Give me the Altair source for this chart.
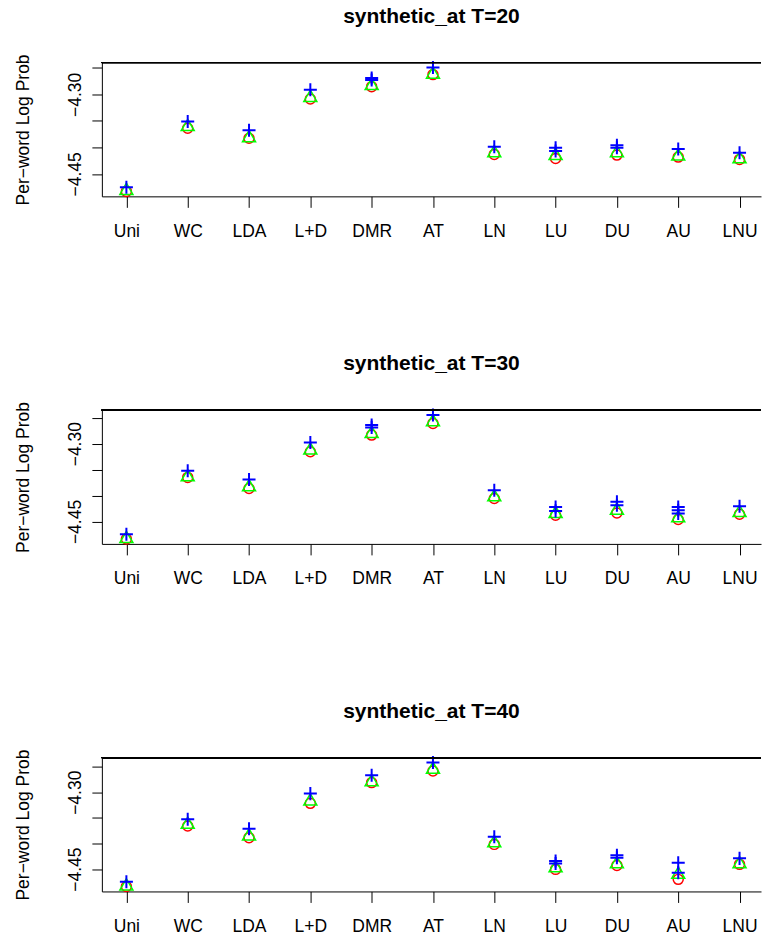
import json
import altair as alt
import pandas as pd

# Models compared on the x axis
categories = ["Uni", "WC", "LDA", "L+D", "DMR", "AT", "LN", "LU", "DU", "AU", "LNU"]
panel_titles = ["synthetic_at T=20", "synthetic_at T=30", "synthetic_at T=40"]

# Per-word log probability, one value per model for each of three estimators
red_t20 = [-4.4830, -4.3639, -4.3828, -4.3088, -4.2855, -4.2627, -4.4132, -4.4208, -4.4145, -4.4183, -4.4227]
green_t20 = [-4.4780, -4.3576, -4.3785, -4.3026, -4.2804, -4.2589, -4.4069, -4.4120, -4.4069, -4.4132, -4.4183]
blue_t20 = [-4.4752, -4.3513, -4.3677, -4.2912, -4.2690, -4.2493, -4.3988, -4.4007, -4.3961, -4.4031, -4.4101]
blue_more_t20 = [("DMR", -4.2728), ("LU", -4.4069), ("DU", -4.4007)]

red_t30 = [-4.4836, -4.3650, -4.3863, -4.3156, -4.2834, -4.2608, -4.4056, -4.4378, -4.4334, -4.4461, -4.4359]
green_t30 = [-4.4797, -4.3606, -4.3799, -4.3091, -4.2770, -4.2544, -4.3992, -4.4314, -4.4249, -4.4397, -4.4295]
blue_t30 = [-4.4745, -4.3523, -4.3689, -4.2975, -4.2641, -4.2447, -4.3895, -4.4218, -4.4121, -4.4218, -4.4204]
blue_more_t30 = [("DMR", -4.2685), ("LU", -4.4295), ("DU", -4.4185), ("AU", -4.4281), ("AU", -4.4345)]

red_t40 = [-4.4840, -4.3660, -4.3887, -4.3217, -4.2812, -4.2586, -4.4018, -4.4506, -4.4428, -4.4701, -4.4408]
green_t40 = [-4.4799, -4.3594, -4.3822, -4.3139, -4.2762, -4.2520, -4.3953, -4.4441, -4.4363, -4.4570, -4.4363]
blue_t40 = [-4.4746, -4.3529, -4.3711, -4.3027, -4.2670, -4.2421, -4.3867, -4.4344, -4.4232, -4.4375, -4.4291]
blue_more_t40 = [("LU", -4.4389), ("DU", -4.4277), ("AU", -4.4570)]

y_ticks = [-4.25, -4.30, -4.35, -4.40, -4.45]

PLOT_W, PLOT_H = 660, 134
FONT = "Liberation Sans"
MINUS = "\u2212"


def panel_frame(red, green, blue, extra):
    rows = []
    for series, vals in (("red", red), ("green", green), ("blue", blue)):
        for i, v in enumerate(vals):
            rows.append({"pos": i + 1, "value": v, "series": series})
    for cat, v in extra:
        rows.append({"pos": categories.index(cat) + 1, "value": v, "series": "blue"})
    return pd.DataFrame(rows)


def r_domain(values):
    # base-graphics style range: data extent widened by 4% on each side
    lo, hi = min(values), max(values)
    pad = 0.04 * (hi - lo)
    return [lo - pad, hi + pad]


x_label_expr = json.dumps(categories) + "[datum.value - 1]"
y_label_expr = (
    "abs(datum.value + 4.30) < 1e-6 || abs(datum.value + 4.45) < 1e-6 ? "
    "replace(format(datum.value, '.2f'), '-', '" + MINUS + "') : ''"
)


def panel(title, red, green, blue, extra):
    df = panel_frame(red, green, blue, extra)
    ydom = r_domain(df["value"].tolist())
    x = alt.X(
        "pos:Q",
        scale=alt.Scale(domain=[0.6, 11.35], nice=False, zero=False),
        axis=alt.Axis(
            values=list(range(1, len(categories) + 1)),
            labelExpr=x_label_expr,
            title=None,
            grid=False,
            domainColor="black",
            tickColor="black",
            tickSize=11,
            labelFont=FONT,
            labelFontSize=17.5,
            labelColor="black",
            labelBaseline="alphabetic",
            labelPadding=29,
            labelFlush=False,
            labelOverlap=False,
        ),
    )
    y = alt.Y(
        "value:Q",
        scale=alt.Scale(domain=ydom, nice=False, zero=False),
        axis=alt.Axis(
            values=y_ticks,
            labelExpr=y_label_expr,
            title="Per" + MINUS + "word Log Prob",
            grid=False,
            domainColor="black",
            tickColor="black",
            tickSize=10,
            labelFont=FONT,
            labelFontSize=17.5,
            labelColor="black",
            labelAngle=270,
            labelAlign="center",
            labelBaseline="alphabetic",
            labelPadding=11,
            labelOverlap=False,
            labelFlush=False,
            titleFont=FONT,
            titleFontSize=17.5,
            titleFontWeight="normal",
            titleColor="black",
            titleAngle=270,
            titleAlign="center",
            titleBaseline="alphabetic",
            titleX=-73,
            titleY=PLOT_H / 2,
        ),
    )
    base = alt.Chart(df)
    circles = base.transform_filter(alt.datum.series == "red").mark_point(
        shape="circle", size=100, filled=False, stroke="#FF0000", strokeWidth=1.5, opacity=1
    ).encode(x=x, y=y)
    triangles = base.transform_filter(alt.datum.series == "green").mark_point(
        shape="triangle-up", size=170, filled=False, stroke="#00FF00", strokeWidth=1.5, opacity=1
    ).encode(x=x, y=y)
    pluses = base.transform_filter(alt.datum.series == "blue").mark_point(
        shape="M-1,0L1,0M0,-1L0,1", size=170, filled=False, stroke="#0000FF", strokeWidth=2, opacity=1
    ).encode(x=x, y=y)
    top_edge = alt.Chart(df).mark_rule(color="black", strokeWidth=1).encode(
        x=alt.value(0), x2=alt.value(PLOT_W), y=alt.value(0)
    )
    return alt.layer(circles, triangles, pluses, top_edge).properties(
        width=PLOT_W,
        height=PLOT_H,
        title=alt.TitleParams(
            title,
            font=FONT,
            fontSize=21,
            fontWeight="bold",
            color="black",
            anchor="middle",
            frame="group",
            baseline="alphabetic",
            offset=10,
        ),
    )


panels = [
    panel(panel_titles[0], red_t20, green_t20, blue_t20, blue_more_t20),
    panel(panel_titles[1], red_t30, green_t30, blue_t30, blue_more_t30),
    panel(panel_titles[2], red_t40, green_t40, blue_t40, blue_more_t40),
]

chart = (
    alt.vconcat(*panels, spacing=214, bounds="flush")
    .properties(padding={"left": 15, "top": 5, "right": 0, "bottom": 0}, background="white")
    .configure_view(stroke=None)
)

chart.save("out.html", embed_options={"renderer": "svg", "actions": False})
